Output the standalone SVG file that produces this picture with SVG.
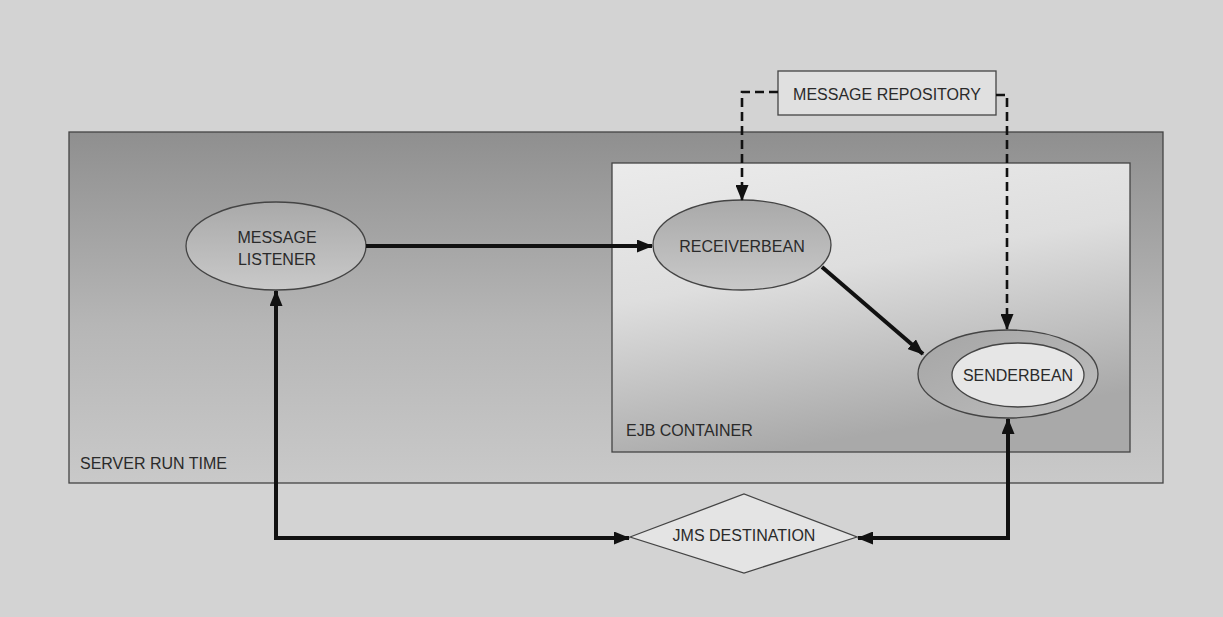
<svg xmlns="http://www.w3.org/2000/svg" width="1223" height="617" viewBox="0 0 1223 617">
<style>
.lbl{font-family:"Liberation Sans",Arial,sans-serif;font-size:16px;fill:#2a2a2a}
.mid{text-anchor:middle;dominant-baseline:central}
.edge{stroke:#444;stroke-width:1.3}
.solid{fill:none;stroke:#111;stroke-width:4}
.dash{fill:none;stroke:#111;stroke-width:2.6;stroke-dasharray:9 5}
</style>
<defs>
<linearGradient id="gServer" x1="0" y1="0" x2="0" y2="1">
<stop offset="0" stop-color="#8f8f8f"/>
<stop offset="0.55" stop-color="#b6b6b6"/>
<stop offset="1" stop-color="#c9c9c9"/>
</linearGradient>
<linearGradient id="gEjb" x1="0" y1="0" x2="0.3" y2="1">
<stop offset="0" stop-color="#ebebeb"/>
<stop offset="0.45" stop-color="#dedede"/>
<stop offset="1" stop-color="#a9a9a9"/>
</linearGradient>
<linearGradient id="gNode" x1="0" y1="0" x2="0" y2="1">
<stop offset="0" stop-color="#a9a9a9"/>
<stop offset="1" stop-color="#c9c9c9"/>
</linearGradient>
<linearGradient id="gRing" x1="0" y1="0" x2="1" y2="1">
<stop offset="0" stop-color="#a5a5a5"/>
<stop offset="1" stop-color="#bdbdbd"/>
</linearGradient>
<marker id="ah" viewBox="0 0 16 13" refX="15" refY="6.5" markerWidth="16" markerHeight="13" markerUnits="userSpaceOnUse" orient="auto-start-reverse">
<path d="M0,0 L16,6.5 L0,13 Z" fill="#111"/>
</marker>
<marker id="ahs" viewBox="0 0 16 13" refX="15" refY="6.5" markerWidth="16" markerHeight="13" markerUnits="userSpaceOnUse" orient="auto">
<path d="M0,0 L16,6.5 L0,13 Z" fill="#111"/>
</marker>
</defs>
<rect x="0" y="0" width="1223" height="617" fill="#d3d3d3"/>
<g id="server-run-time">
<rect x="69" y="132" width="1094" height="351" fill="url(#gServer)" class="edge"/>
<text class="lbl" x="80" y="469">SERVER RUN TIME</text>
</g>
<g id="ejb-container">
<rect x="612" y="163" width="518" height="289" fill="url(#gEjb)" class="edge"/>
<text class="lbl" x="626" y="436">EJB CONTAINER</text>
</g>
<g id="message-repository">
<rect x="778" y="71" width="218" height="44" fill="#e0e0e0" class="edge"/>
<text class="lbl mid" x="887" y="94">MESSAGE REPOSITORY</text>
</g>
<g id="message-listener">
<ellipse cx="276" cy="246" rx="90" ry="44" fill="url(#gNode)" class="edge"/>
<text class="lbl mid" x="277" y="237">MESSAGE</text>
<text class="lbl mid" x="277" y="259">LISTENER</text>
</g>
<g id="receiverbean">
<ellipse cx="742" cy="245" rx="89" ry="45" fill="url(#gNode)" class="edge"/>
<text class="lbl mid" x="742" y="246">RECEIVERBEAN</text>
</g>
<g id="senderbean">
<ellipse cx="1008" cy="374" rx="90" ry="44" fill="url(#gRing)" class="edge"/>
<ellipse cx="1018" cy="375" rx="66" ry="32" fill="#e6e6e6" class="edge"/>
<text class="lbl mid" x="1018" y="375">SENDERBEAN</text>
</g>
<g id="jms-destination">
<polygon points="630,537 744,494 857,537 744,573" fill="#e4e4e4" class="edge"/>
<text class="lbl mid" x="744" y="535">JMS DESTINATION</text>
</g>
<g id="connectors">
<path class="solid" d="M366,246 L652,246" marker-end="url(#ahs)"/>
<path class="solid" d="M822,267 L923,354" marker-end="url(#ahs)"/>
<path class="dash" d="M778,92 L742,92 L742,200" marker-end="url(#ahs)"/>
<path class="dash" d="M996,95 L1007,95 L1007,329" marker-end="url(#ahs)"/>
<path class="solid" d="M276,291 L276,538 L629,538" marker-start="url(#ah)" marker-end="url(#ah)"/>
<path class="solid" d="M1008,419 L1008,538 L858,538" marker-start="url(#ah)" marker-end="url(#ah)"/>
</g>
</svg>
